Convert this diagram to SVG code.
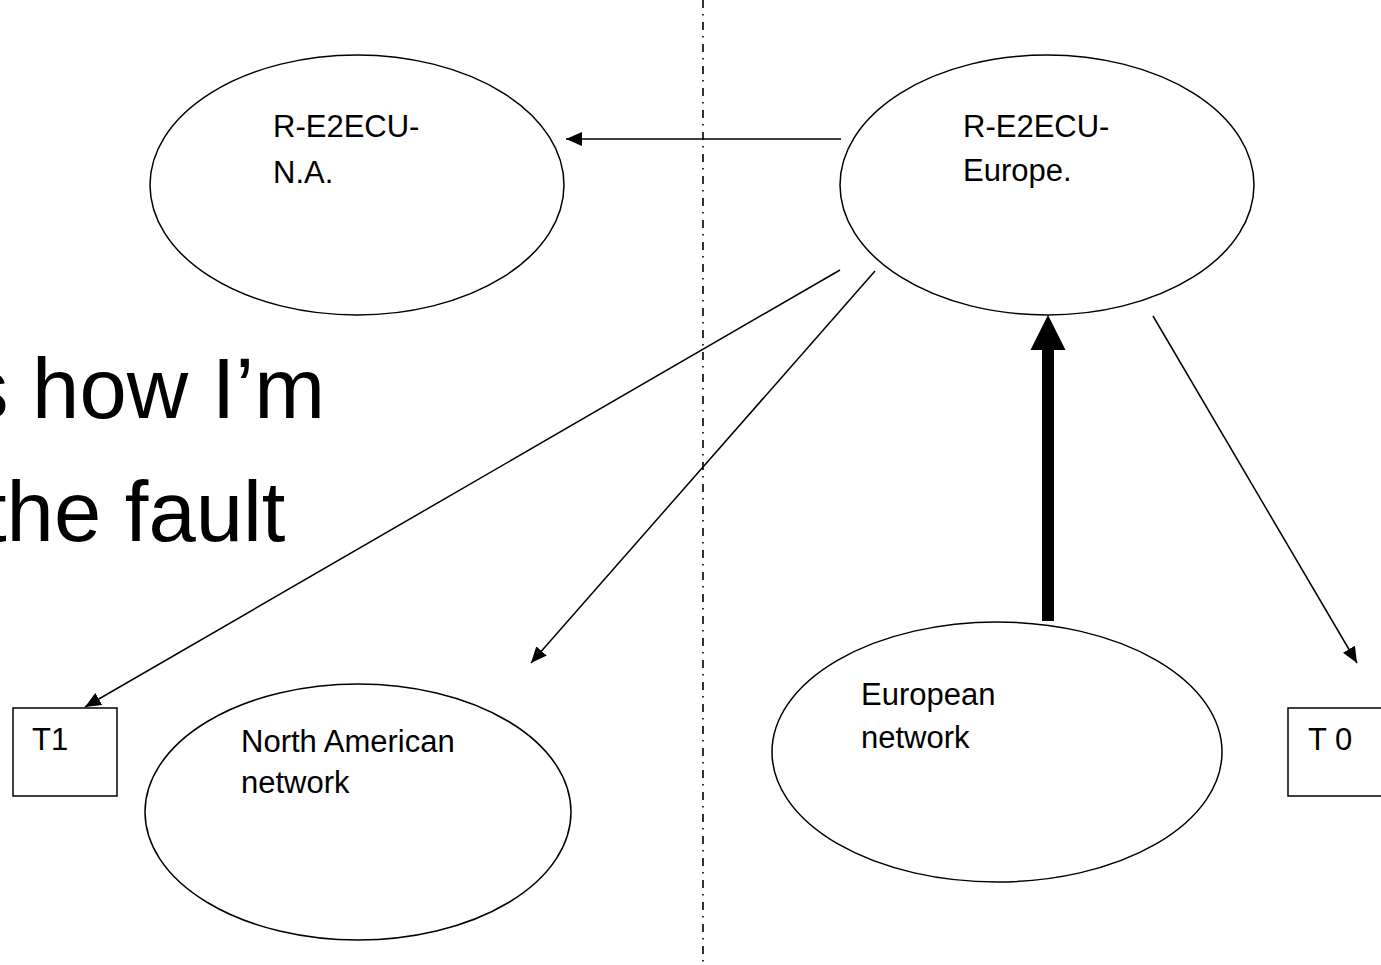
<svg xmlns="http://www.w3.org/2000/svg" width="1381" height="965" viewBox="0 0 1381 965">
<defs>
<style>
.shape{fill:none;stroke:#000;stroke-width:1.5}
.box{fill:#fff;stroke:#000;stroke-width:1.5}
.lbl{font-family:"Liberation Sans",Arial,sans-serif;font-size:31px;fill:#000}
.big{font-family:"Liberation Sans",Arial,sans-serif;font-size:85px;fill:#000}
.conn{fill:none;stroke:#000;stroke-width:1.5}
</style>
<marker id="ah" markerUnits="userSpaceOnUse" markerWidth="16" markerHeight="14" refX="16" refY="7" orient="auto">
<path d="M0,0 L16,7 L0,14 Z" fill="#000"/>
</marker>
</defs>
<rect width="1381" height="965" fill="#fff"/>
<g id="heading">
<text class="big" x="-34" y="418">s how I’m</text>
<text class="big" x="-17" y="541">the fault</text>
</g>
<g id="divider">
<line x1="703" y1="0" x2="703" y2="965" stroke="#000" stroke-width="1.6" stroke-dasharray="8 6 1.5 6.5"/>
</g>
<g id="connectors">
<line class="conn" x1="841" y1="139" x2="566" y2="139" marker-end="url(#ah)"/>
<line class="conn" x1="840" y1="270" x2="85" y2="707" marker-end="url(#ah)"/>
<line class="conn" x1="875" y1="271" x2="531" y2="663" marker-end="url(#ah)"/>
<line class="conn" x1="1153" y1="316" x2="1357" y2="663" marker-end="url(#ah)"/>
<line x1="1048" y1="621" x2="1048" y2="348" stroke="#000" stroke-width="12"/>
<polygon points="1048,315 1030.5,350 1065.5,350" fill="#000"/>
</g>
<g id="node-na">
<ellipse class="shape" cx="357" cy="185" rx="207" ry="130"/>
<text class="lbl" x="273" y="137">R-E2ECU-</text>
<text class="lbl" x="273" y="183">N.A.</text>
</g>
<g id="node-europe">
<ellipse class="shape" cx="1047" cy="185" rx="207" ry="130"/>
<text class="lbl" x="963" y="137">R-E2ECU-</text>
<text class="lbl" x="963" y="181">Europe.</text>
</g>
<g id="node-na-network">
<ellipse class="shape" cx="358" cy="812" rx="213" ry="128"/>
<text class="lbl" x="241" y="752">North American</text>
<text class="lbl" x="241" y="793">network</text>
</g>
<g id="node-eu-network">
<ellipse class="shape" cx="997" cy="752" rx="225" ry="130"/>
<text class="lbl" x="861" y="705">European</text>
<text class="lbl" x="861" y="748">network</text>
</g>
<g id="node-t1">
<rect class="box" x="13" y="708" width="104" height="88"/>
<text class="lbl" x="32" y="750">T1</text>
</g>
<g id="node-t0">
<rect class="box" x="1288" y="708" width="104" height="88"/>
<text class="lbl" x="1308" y="750">T 0</text>
</g>
</svg>
